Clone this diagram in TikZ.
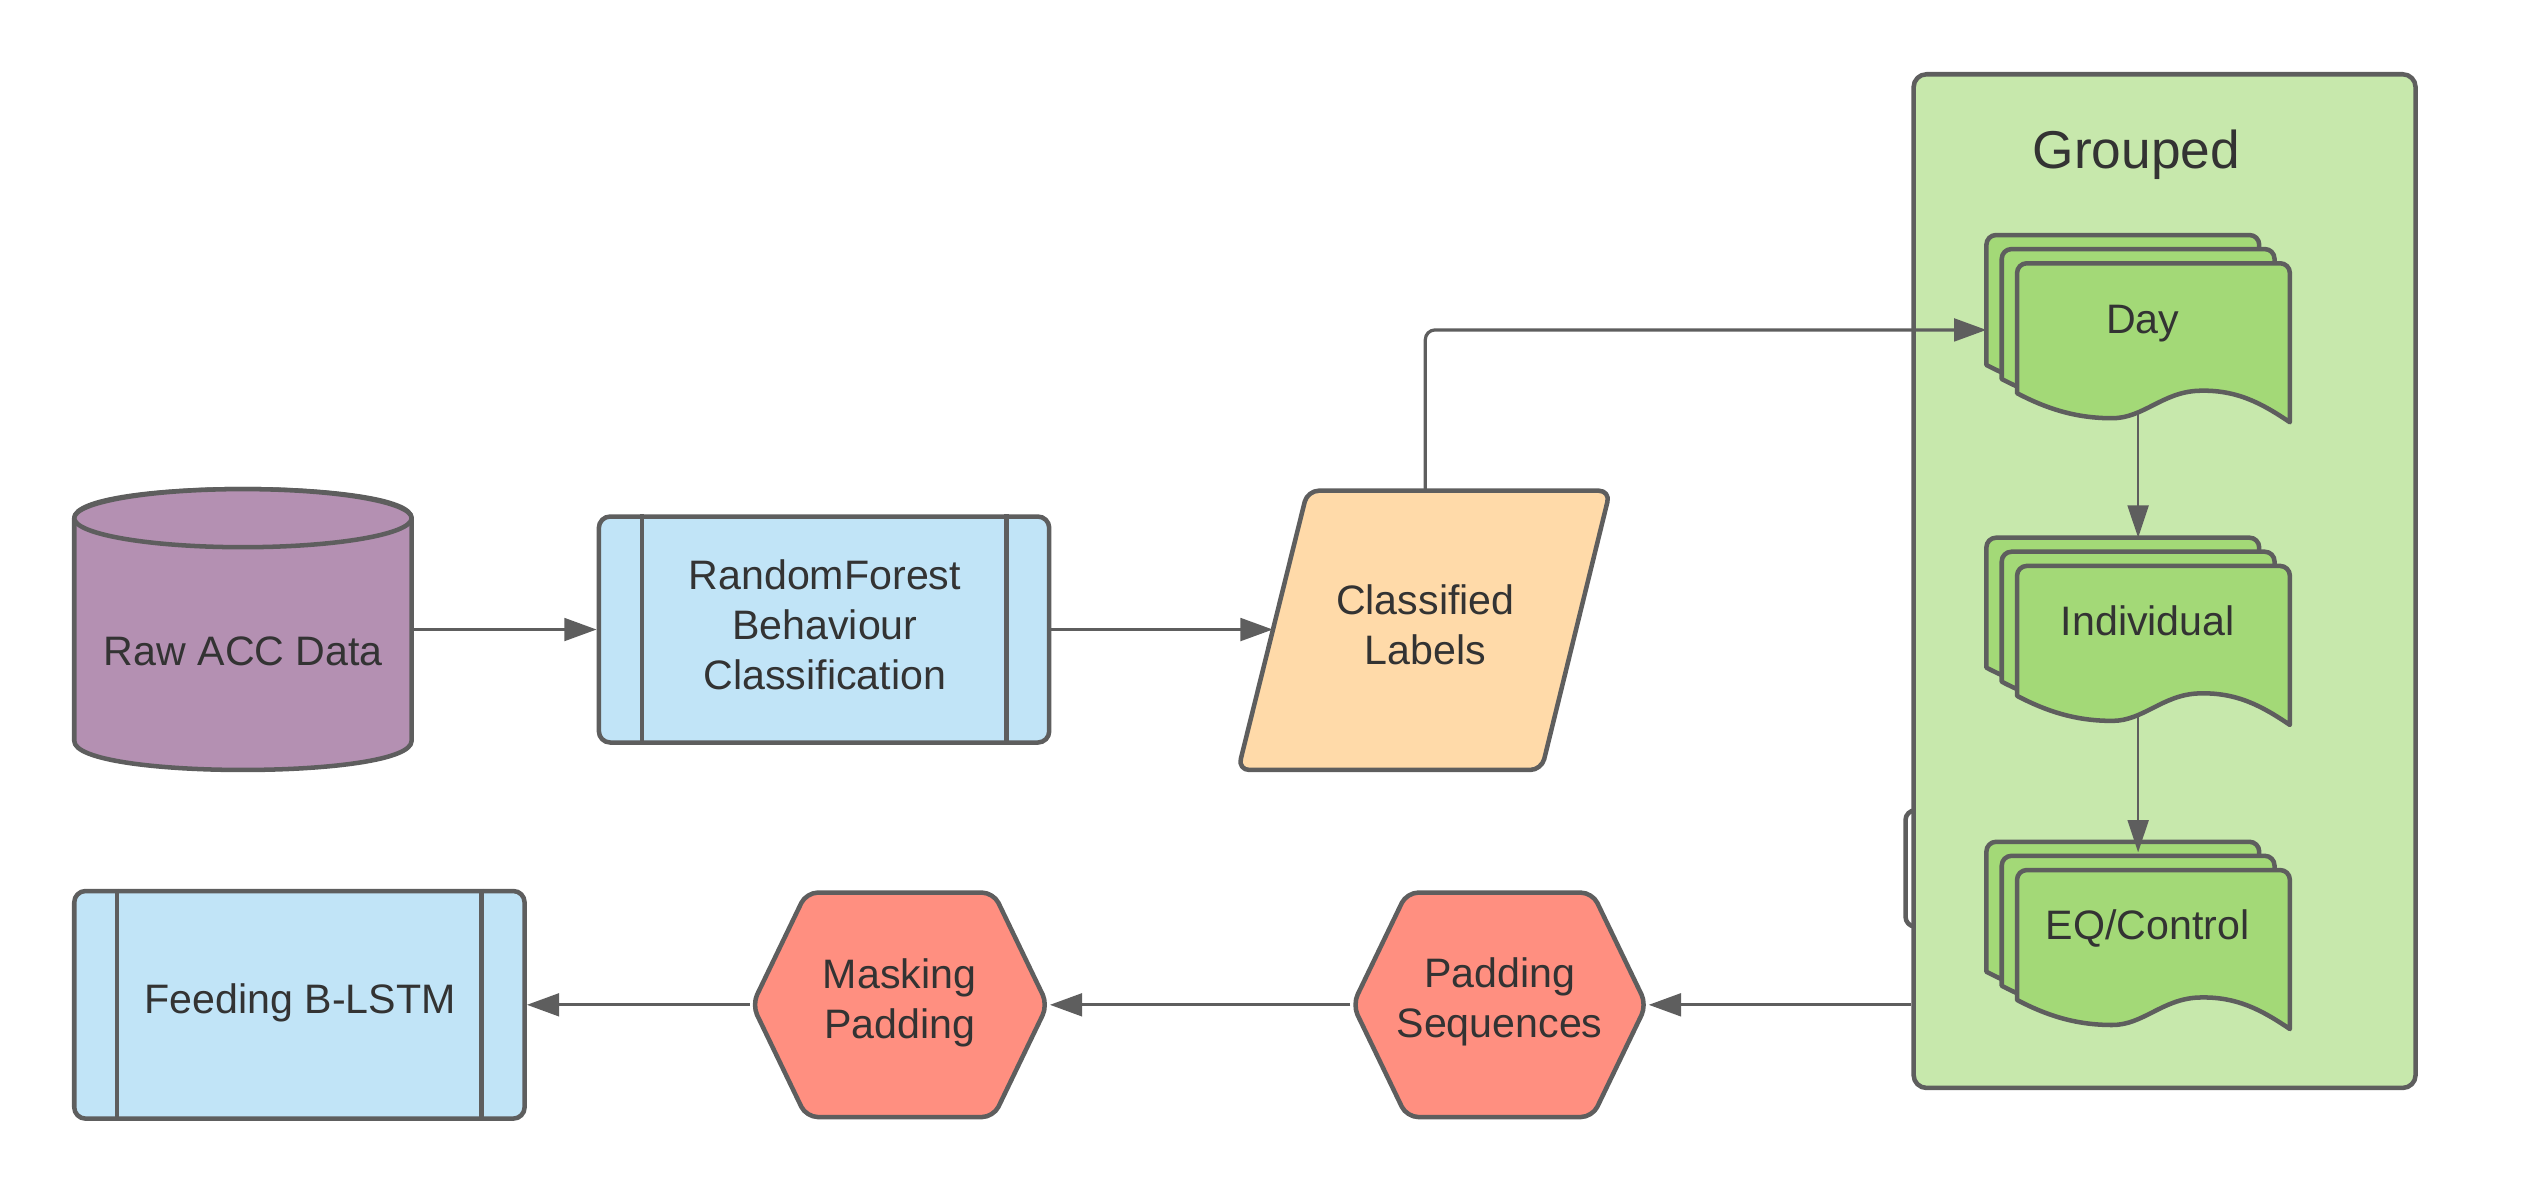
\documentclass[tikz,border=0pt]{standalone}
\usepackage{fontspec}
\setmainfont{Liberation Sans}
\usetikzlibrary{arrows.meta}
\definecolor{lineC}{RGB}{94,94,94}
\definecolor{textC}{RGB}{51,51,51}
\definecolor{purpleF}{RGB}{180,144,178}
\definecolor{blueF}{RGB}{193,228,247}
\definecolor{orangeF}{RGB}{255,218,169}
\definecolor{redF}{RGB}{255,143,128}
\definecolor{groupF}{RGB}{199,232,172}
\definecolor{docF}{RGB}{163,217,119}
\newcommand{\mydocpage}[2]{%
  \draw[shapeline, fill=docF] (#1,#2+80.5) -- (#1,#2+6)
    .. controls (#1,#2+2.7) and (#1+2.7,#2) .. (#1+6,#2) -- (#1+163,#2)
    .. controls (#1+166.3,#2) and (#1+169,#2+2.7) .. (#1+169,#2+6)
    -- (#1+169,#2+98.5)
    .. controls (#1+152,#2+87) and (#1+136,#2+78) .. (#1+112,#2+79)
    .. controls (#1+90,#2+80) and (#1+78,#2+96) .. (#1+59,#2+96)
    .. controls (#1+38,#2+96) and (#1+20,#2+91) .. (#1,#2+80.5) -- cycle;}
\newcommand{\mydocstack}[2]{%
  \mydocpage{#1}{#2}\mydocpage{#1+9.5}{#2+8.7}\mydocpage{#1+19}{#2+17.5}}
\begin{document}
\begin{tikzpicture}[x=1pt,y=-1pt,
  shapeline/.style={draw=lineC, line width=2.8pt, line join=round},
  conn/.style={draw=lineC, line width=2pt, -{Triangle[length=20pt,width=14pt]}},
  thinconn/.style={draw=lineC, line width=1.4pt, -{Triangle[length=20pt,width=13pt]}},
  txt/.style={text=textC, font={\fontsize{25.5}{31}\selectfont}, align=center, inner sep=0pt},
  txtone/.style={text=textC, font={\fontsize{25.5}{31}\selectfont}, inner sep=0pt, anchor=base},
  anchorbox/.style={draw=none, fill=none, inner sep=0pt, outer sep=1.4pt, rectangle},
  procbox/.style={shapeline, fill=blueF, rounded corners=7pt, rectangle, inner sep=0pt},
  hexagonfill/.style={shapeline, fill=redF, rounded corners=7pt},
]
\useasboundingbox (0,0) rectangle (1568,739.07);

% ---- Raw ACC Data (cylinder)
\draw[shapeline, fill=purpleF] (46,321) -- (46,459) .. controls (46,483) and (255,483) .. (255,459)
  -- (255,321) .. controls (255,297) and (46,297) .. (46,321) -- cycle;
\draw[shapeline, fill=purpleF] (150.5,321) ellipse [x radius=104.5pt, y radius=18pt];
\node[anchorbox, minimum width=209pt, minimum height=174pt] (raw) at (150.5,390) {};
\node[txtone] (rawT) at (150.8,412) {Raw ACC Data};

% ---- RandomForest process box
\node[procbox, minimum width=279pt, minimum height=140pt] (rf) at (510.5,390) {};
\draw[shapeline] ([xshift=28pt]rf.north west) -- ([xshift=28pt]rf.south west);
\draw[shapeline] ([xshift=-28pt]rf.north east) -- ([xshift=-28pt]rf.south east);
\node[txt] (rfT) at (511,386.9) {RandomForest\\Behaviour\\Classification};

% ---- Classified Labels (parallelogram)
\draw[shapeline, fill=orangeF, rounded corners=7pt] (889,304) -- (997.5,304) -- (955,477) -- (767,477) -- (810,304) -- cycle;
\node[anchorbox, minimum width=230pt, minimum height=173pt] (cls) at (882.25,390.5) {};
\coordinate (clsIn) at (788.5,390);
\coordinate (clsTop) at (883,304);
\node[txt] (clsT) at (883,387.3) {Classified\\Labels};

% ---- Grouped container
\draw[shapeline, rounded corners=6pt] (1215,502) -- (1180.5,502) -- (1180.5,574) -- (1215,574);
\node[shapeline, fill=groupF, rounded corners=8pt, minimum width=311pt, minimum height=628pt, inner sep=0pt] (grp) at (1341,360) {};
\node[txtone, font={\fontsize{33}{38}\selectfont}] (grpT) at (1323.5,104.3) {Grouped};

% ---- Document stacks
\mydocstack{1230.6}{145.6}
\mydocstack{1230.6}{333.1}
\mydocstack{1230.6}{521.5}
\node[anchorbox, outer sep=0pt, minimum width=188pt, minimum height=110.4pt] (dayS) at (1324.6,200.8) {};
\node[anchorbox, outer sep=0pt, minimum width=188pt, minimum height=110.4pt] (indS) at (1324.6,388.3) {};
\node[anchorbox, outer sep=0pt, minimum width=188pt, minimum height=110.4pt] (eqS) at (1324.6,576.7) {};
\node[txtone] (dayT) at (1327.4,206.5) {Day};
\node[txtone] (indT) at (1330.6,394) {Individual};
\node[txtone] (eqT) at (1330.5,581.8) {EQ/Control};

% ---- Hexagons
\draw[hexagonfill, shift={(929,622.5)}] (0,-69.5) -- (57.5,-69.5) -- (91,0) -- (57.5,69.5) -- (-57.5,69.5) -- (-91,0) -- (-57.5,-69.5) -- cycle;
\node[anchorbox, minimum width=182pt, minimum height=139pt] (pad) at (929,622.5) {};
\node[txt] (padT) at (929,620.8) {Padding\\Sequences};

\draw[hexagonfill, shift={(557.5,622.5)}] (0,-69.5) -- (58,-69.5) -- (91.5,0) -- (58,69.5) -- (-58,69.5) -- (-91.5,0) -- (-58,-69.5) -- cycle;
\node[anchorbox, minimum width=183pt, minimum height=139pt] (mask) at (557.5,622.5) {};
\node[txt] (maskT) at (557.3,621) {Masking\\Padding};

% ---- Feeding B-LSTM
\node[procbox, minimum width=279pt, minimum height=141pt] (feed) at (185.5,622.5) {};
\draw[shapeline] ([xshift=28pt]feed.north west) -- ([xshift=28pt]feed.south west);
\draw[shapeline] ([xshift=-28pt]feed.north east) -- ([xshift=-28pt]feed.south east);
\node[txtone] (feedT) at (186,627.6) {Feeding B-LSTM};

% ---- Connectors
\draw[conn] (raw.east) -- (rf.west);
\draw[conn] (rf.east) -- (clsIn);
\draw[conn, rounded corners=6pt] (clsTop) |- ([yshift=-3.6pt]dayS.west);
\draw[thinconn] (dayS.south) -- (indS.north);
\draw[thinconn] (indS.south) -- ([yshift=-6.5pt]eqS.north);
\draw[conn] (grp.west |- pad.east) -- (pad.east);
\draw[conn] (pad.west) -- (mask.east);
\draw[conn] (mask.west) -- (feed.east);
\end{tikzpicture}
\end{document}
